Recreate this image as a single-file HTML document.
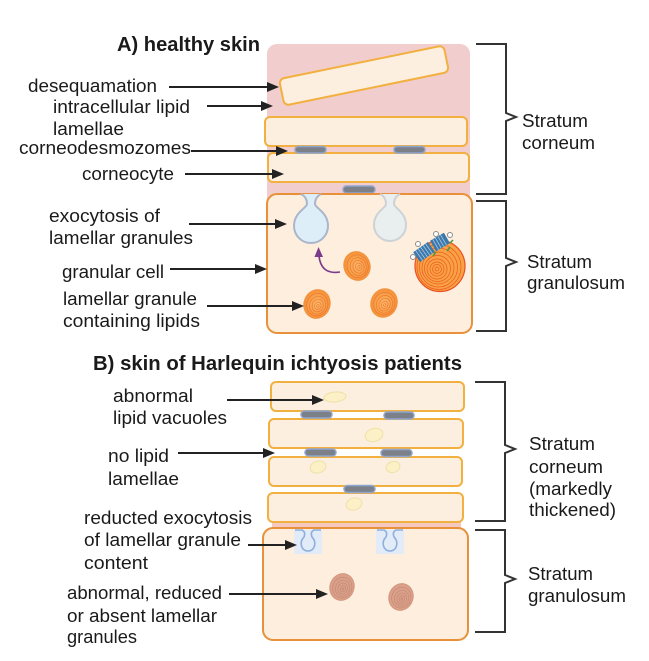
<!DOCTYPE html>
<html><head><meta charset="utf-8"><style>
html,body{margin:0;padding:0;background:#fff;}
svg{display:block;}
text{font-family:"Liberation Sans",Arial,sans-serif;fill:#1a1a1a;}
</style></head><body>
<svg width="649" height="661" viewBox="0 0 649 661" xmlns="http://www.w3.org/2000/svg">
<defs>
<marker id="ah" markerWidth="12" markerHeight="10" refX="6" refY="5" orient="auto" markerUnits="userSpaceOnUse"><path d="M0,0 L12,5 L0,10 z" fill="#222"/></marker>
<radialGradient id="og" cx="0.5" cy="0.5" r="0.5"><stop offset="0" stop-color="#fbb868"/><stop offset="1" stop-color="#f59236"/></radialGradient>
</defs>

<!-- ===== Panel A ===== -->
<rect x="267" y="44" width="203" height="170" rx="10" fill="#f2cdcd"/>
<g transform="translate(364,75.5) rotate(-11.6)">
<rect x="-84" y="-13.5" width="168" height="27" rx="5" fill="#fdefe0" stroke="#f2b040" stroke-width="2"/>
</g>
<rect x="265" y="117" width="202" height="29" rx="5" fill="#fdefe0" stroke="#f2b040" stroke-width="2"/>
<rect x="268" y="153" width="201" height="29" rx="5" fill="#fdefe0" stroke="#f2b040" stroke-width="2"/>
<g fill="#7c8088" stroke="#8ea6d0" stroke-width="1.5">
<rect x="295" y="146.5" width="31" height="6.5" rx="3.2"/>
<rect x="394" y="146.5" width="31" height="6.5" rx="3.2"/>
<rect x="343" y="186" width="32" height="7" rx="3.5"/>
</g>
<rect x="267" y="194" width="205" height="139" rx="10" fill="#fdeedd" stroke="#e8913a" stroke-width="2"/>
<path d="M301,194 Q307,197 307,204 C307,208 294,212 294,226 A17,17 0 0,0 328,226 C328,212 315,208 315,204 Q315,197 321,194" fill="#ddeef8" stroke="#aab6cc" stroke-width="2"/>
<path d="M380,194 Q386,197 386,204 C386,208 374,212 374,225 A16,16 0 0,0 406,225 C406,212 394,208 394,204 Q394,197 400,194" fill="#e9eeee" stroke="#cdd2d6" stroke-width="2"/>
<path d="M340,272 Q321,275 319,256" fill="none" stroke="#7b3b8b" stroke-width="1.6"/>
<polygon points="314.5,257 318.5,247 323,257" fill="#7b3b8b"/>
<g transform="translate(357,266) rotate(-20)">
<ellipse rx="13" ry="14.5" fill="url(#og)" stroke="#f39040" stroke-width="1"/>
<g fill="none" stroke="#e8622a" stroke-width="0.6" opacity="0.75"><ellipse cx="0.5" cy="0.5" rx="10.5" ry="11.5"/><ellipse cx="1" cy="1" rx="8" ry="9"/><ellipse cx="1.2" cy="1.2" rx="5.5" ry="6.5"/><ellipse cx="1.4" cy="1.4" rx="3.2" ry="3.8"/><ellipse cx="1.5" cy="1.5" rx="1.2" ry="1.4"/></g>
</g>
<g transform="translate(317,304) rotate(20)">
<ellipse rx="13" ry="14.5" fill="url(#og)" stroke="#f39040" stroke-width="1"/>
<g fill="none" stroke="#e8622a" stroke-width="0.6" opacity="0.75"><ellipse cx="0.5" cy="0.5" rx="10.5" ry="11.5"/><ellipse cx="1" cy="1" rx="8" ry="9"/><ellipse cx="1.2" cy="1.2" rx="5.5" ry="6.5"/><ellipse cx="1.4" cy="1.4" rx="3.2" ry="3.8"/><ellipse cx="1.5" cy="1.5" rx="1.2" ry="1.4"/></g>
</g>
<g transform="translate(384,303) rotate(25)">
<ellipse rx="13" ry="14.5" fill="url(#og)" stroke="#f39040" stroke-width="1"/>
<g fill="none" stroke="#e8622a" stroke-width="0.6" opacity="0.75"><ellipse cx="0.5" cy="0.5" rx="10.5" ry="11.5"/><ellipse cx="1" cy="1" rx="8" ry="9"/><ellipse cx="1.2" cy="1.2" rx="5.5" ry="6.5"/><ellipse cx="1.4" cy="1.4" rx="3.2" ry="3.8"/><ellipse cx="1.5" cy="1.5" rx="1.2" ry="1.4"/></g>
</g>
<g transform="translate(440,266)">
<ellipse rx="25" ry="25.5" fill="#f9a243" stroke="#ec4f24" stroke-width="1.2"/>
<g fill="none" stroke="#ea4b22" stroke-width="0.7" opacity="0.85"><ellipse cx="-1" cy="1" rx="22" ry="22.5"/><ellipse cx="-1.5" cy="1.5" rx="19" ry="19.5"/><ellipse cx="-2" cy="2" rx="16" ry="16"/><ellipse cx="-2.5" cy="2.5" rx="13" ry="13"/><ellipse cx="-3" cy="3" rx="10" ry="10"/><ellipse cx="-3" cy="3" rx="7" ry="7"/><ellipse cx="-3" cy="3" rx="4.5" ry="4.5"/><ellipse cx="-3" cy="3" rx="2" ry="2"/></g>
</g>
<g transform="translate(424,252) rotate(-35)">
<rect x="-9" y="-6" width="18" height="12" fill="#3b79ad"/>
<g stroke="#a9c8e2" stroke-width="0.8"><line x1="-6" y1="-6" x2="-6" y2="6"/><line x1="-3" y1="-6" x2="-3" y2="6"/><line x1="0" y1="-6" x2="0" y2="6"/><line x1="3" y1="-6" x2="3" y2="6"/><line x1="6" y1="-6" x2="6" y2="6"/></g>
</g>
<g transform="translate(440,242) rotate(-30)">
<rect x="-8" y="-6" width="16" height="12" fill="#3b79ad"/>
<g stroke="#a9c8e2" stroke-width="0.8"><line x1="-5" y1="-6" x2="-5" y2="6"/><line x1="-2" y1="-6" x2="-2" y2="6"/><line x1="1" y1="-6" x2="1" y2="6"/><line x1="4" y1="-6" x2="4" y2="6"/></g>
</g>
<g fill="#fff" stroke="#8c8c8c" stroke-width="1">
<circle cx="413" cy="257" r="2.5"/><circle cx="418" cy="244" r="2.5"/><circle cx="436" cy="234" r="2.5"/><circle cx="450" cy="235" r="2.5"/>
</g>
<g stroke="#4a9a3a" stroke-width="1.5"><line x1="447" y1="251" x2="450" y2="247"/><line x1="433" y1="256" x2="436" y2="252"/><line x1="450" y1="243" x2="453" y2="240"/></g>

<!-- ===== Panel B ===== -->
<rect x="272" y="519" width="189" height="12" fill="#f6c9c0"/>
<g fill="#fdefe0" stroke="#f2b040" stroke-width="2">
<rect x="271" y="382" width="193" height="29" rx="5"/>
<rect x="269" y="419" width="194" height="29" rx="5"/>
<rect x="269" y="457" width="193" height="29" rx="5"/>
<rect x="268" y="493" width="195" height="29" rx="5"/>
</g>
<g fill="#7c8088" stroke="#8ea6d0" stroke-width="1.5">
<rect x="301" y="411" width="31" height="7" rx="3.5"/>
<rect x="384" y="412" width="30" height="7" rx="3.5"/>
<rect x="305" y="449" width="31" height="7" rx="3.5"/>
<rect x="381" y="449.5" width="31" height="7" rx="3.5"/>
<rect x="344" y="485.5" width="31" height="7" rx="3.5"/>
</g>
<g fill="#fbf0c6" stroke="#efe0a8" stroke-width="1">
<ellipse cx="335" cy="397" rx="11" ry="5" transform="rotate(-5 335 397)"/>
<ellipse cx="374" cy="435" rx="9" ry="6.5" transform="rotate(-15 374 435)"/>
<ellipse cx="318" cy="467" rx="8" ry="6" transform="rotate(-15 318 467)"/>
<ellipse cx="393" cy="467" rx="7" ry="5.5" transform="rotate(-15 393 467)"/>
<ellipse cx="354" cy="504" rx="8" ry="6" transform="rotate(-15 354 504)"/>
</g>
<rect x="263" y="528" width="205" height="112" rx="10" fill="#fdeedd" stroke="#e8913a" stroke-width="2"/>
<rect x="294" y="530" width="28" height="24" fill="#e2ebf8"/>
<rect x="376" y="530" width="28" height="24" fill="#e2ebf8"/>
<g fill="none" stroke="#8fb0dc" stroke-width="1.6">
<path d="M295,530 H302 Q306,532 304,537 C299,542 301,551 308,551 C315,551 317,542 312,537 Q310,532 314,530 H321"/>
<path d="M377,530 H384 Q388,532 386,537 C381,542 383,551 390,551 C397,551 399,542 394,537 Q392,532 396,530 H403"/>
</g>
<g transform="translate(342,587) rotate(20)">
<ellipse rx="12" ry="13.5" fill="#daa08a" stroke="#d2957e" stroke-width="1"/>
<g fill="none" stroke="#bb7d6a" stroke-width="0.6" opacity="0.75"><ellipse cx="0.5" cy="0.5" rx="9.5" ry="10.5"/><ellipse cx="1" cy="1" rx="7" ry="8"/><ellipse cx="1.2" cy="1.2" rx="4.8" ry="5.6"/><ellipse cx="1.4" cy="1.4" rx="2.6" ry="3.2"/><ellipse cx="1.5" cy="1.5" rx="1" ry="1.2"/></g>
</g>
<g transform="translate(401,597) rotate(20)">
<ellipse rx="12" ry="13.5" fill="#daa08a" stroke="#d2957e" stroke-width="1"/>
<g fill="none" stroke="#bb7d6a" stroke-width="0.6" opacity="0.75"><ellipse cx="0.5" cy="0.5" rx="9.5" ry="10.5"/><ellipse cx="1" cy="1" rx="7" ry="8"/><ellipse cx="1.2" cy="1.2" rx="4.8" ry="5.6"/><ellipse cx="1.4" cy="1.4" rx="2.6" ry="3.2"/><ellipse cx="1.5" cy="1.5" rx="1" ry="1.2"/></g>
</g>

<!-- ===== Brackets ===== -->
<g fill="none" stroke="#333" stroke-width="2" stroke-linejoin="miter">
<path d="M476,44 H506 V113 L516,117 L506,121 V194 H476"/>
<path d="M476,201 H506 V258 L516,262 L506,266 V331 H476"/>
<path d="M475,382 H505 V445 L515,449 L505,453 V521 H475"/>
<path d="M475,530 H505 V575 L515,579 L505,583 V632 H475"/>
</g>

<!-- ===== Arrows ===== -->
<g stroke="#222" stroke-width="2" marker-end="url(#ah)">
<line x1="169" y1="87" x2="273" y2="87"/>
<line x1="207" y1="106" x2="267" y2="106"/>
<line x1="191" y1="151" x2="282" y2="151"/>
<line x1="185" y1="174" x2="278" y2="174"/>
<line x1="189" y1="224" x2="281" y2="224"/>
<line x1="170" y1="269" x2="261" y2="269"/>
<line x1="207" y1="306" x2="298" y2="306"/>
<line x1="227" y1="400" x2="318" y2="400"/>
<line x1="178" y1="453" x2="269" y2="453"/>
<line x1="248" y1="545" x2="291" y2="545"/>
<line x1="229" y1="594" x2="322" y2="594"/>
</g>

<!-- ===== Text ===== -->
<text x="117" y="51" font-size="20" font-weight="bold" textLength="143" lengthAdjust="spacingAndGlyphs">A) healthy skin</text>
<text x="93" y="370" font-size="20" font-weight="bold" textLength="369" lengthAdjust="spacingAndGlyphs">B) skin of Harlequin ichtyosis patients</text>

<g font-size="18">
<text x="28" y="92" textLength="129" lengthAdjust="spacingAndGlyphs">desequamation</text>
<text x="53" y="113" textLength="137" lengthAdjust="spacingAndGlyphs">intracellular lipid</text>
<text x="53" y="135" textLength="71" lengthAdjust="spacingAndGlyphs">lamellae</text>
<text x="19" y="154" textLength="172" lengthAdjust="spacingAndGlyphs">corneodesmozomes</text>
<text x="82" y="180" textLength="92" lengthAdjust="spacingAndGlyphs">corneocyte</text>
<text x="49" y="222" textLength="111" lengthAdjust="spacingAndGlyphs">exocytosis of</text>
<text x="49" y="244" textLength="144" lengthAdjust="spacingAndGlyphs">lamellar granules</text>
<text x="62" y="278" textLength="102" lengthAdjust="spacingAndGlyphs">granular cell</text>
<text x="63" y="305" textLength="134" lengthAdjust="spacingAndGlyphs">lamellar granule</text>
<text x="63" y="327" textLength="137" lengthAdjust="spacingAndGlyphs">containing lipids</text>

<text x="113" y="402" textLength="80" lengthAdjust="spacingAndGlyphs">abnormal</text>
<text x="113" y="424" textLength="114" lengthAdjust="spacingAndGlyphs">lipid vacuoles</text>
<text x="108" y="462" textLength="61" lengthAdjust="spacingAndGlyphs">no lipid</text>
<text x="108" y="485" textLength="71" lengthAdjust="spacingAndGlyphs">lamellae</text>
<text x="84" y="524" textLength="168" lengthAdjust="spacingAndGlyphs">reducted exocytosis</text>
<text x="84" y="546" textLength="157" lengthAdjust="spacingAndGlyphs">of lamellar granule</text>
<text x="84" y="569" textLength="64" lengthAdjust="spacingAndGlyphs">content</text>
<text x="67" y="599" textLength="155" lengthAdjust="spacingAndGlyphs">abnormal, reduced</text>
<text x="67" y="622" textLength="150" lengthAdjust="spacingAndGlyphs">or absent lamellar</text>
<text x="67" y="643" textLength="70" lengthAdjust="spacingAndGlyphs">granules</text>

<text x="522" y="127" textLength="66" lengthAdjust="spacingAndGlyphs">Stratum</text>
<text x="522" y="149" textLength="73" lengthAdjust="spacingAndGlyphs">corneum</text>
<text x="527" y="268" textLength="65" lengthAdjust="spacingAndGlyphs">Stratum</text>
<text x="527" y="289" textLength="98" lengthAdjust="spacingAndGlyphs">granulosum</text>
<text x="529" y="450" textLength="66" lengthAdjust="spacingAndGlyphs">Stratum</text>
<text x="529" y="473" textLength="74" lengthAdjust="spacingAndGlyphs">corneum</text>
<text x="529" y="495" textLength="83" lengthAdjust="spacingAndGlyphs">(markedly</text>
<text x="529" y="516" textLength="87" lengthAdjust="spacingAndGlyphs">thickened)</text>
<text x="528" y="580" textLength="65" lengthAdjust="spacingAndGlyphs">Stratum</text>
<text x="528" y="602" textLength="98" lengthAdjust="spacingAndGlyphs">granulosum</text>
</g>
</svg>
</body></html>
